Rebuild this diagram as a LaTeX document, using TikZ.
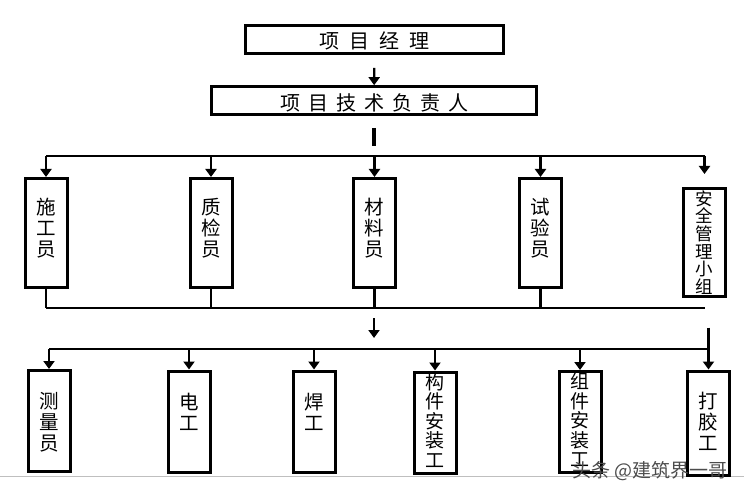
\documentclass[tikz,border=0pt]{standalone}
\usepackage{fontspec}
\setmainfont{Noto Sans CJK SC}
\usetikzlibrary{arrows.meta,calc}
\newcommand\chgapA{\hspace{10pt}}
\newcommand\chgapB{\hspace{8pt}}
\begin{document}
\begin{tikzpicture}[x=1pt,y=-1pt,
  box/.style={draw,line width=3pt,inner sep=0pt},
  hbox/.style={box,line width=2.6pt,minimum height=28pt},
  vbox/.style={box,minimum width=42pt,minimum height=101pt},
  conn/.style={line width=2.4pt},
  arr/.style={line width=2.4pt,-{Triangle[width=11pt,length=8pt]}},
  stub/.style={line width=3.6pt},
  lbl/.style={inner sep=0pt,align=center,font=\fontsize{19.5pt}{21pt}\selectfont},
  lblfive/.style={lbl,font=\fontsize{19pt}{19.5pt}\selectfont},
  lblsix/.style={lbl,font=\fontsize{17.5pt}{17.6pt}\selectfont},
  lblh/.style={lbl,font=\fontsize{20pt}{22pt}\selectfont},
]
\useasboundingbox (0,0) rectangle (744,497);
\draw[black!25,line width=1pt] (0,476.5) -- (744,476.5);

% top boxes
\node[hbox,minimum width=258pt] (pm) at (374.5,39.5) {};
\node[lblh] (pmt) at ($(pm.center)+(0,1)$) {项\chgapA 目\chgapA 经\chgapA 理};
\node[hbox,minimum width=325pt] (tl) at (374,100.5) {};
\node[lblh] (tlt) at ($(tl.center)+(0,2)$) {项\chgapB 目\chgapB 技\chgapB 术\chgapB 负\chgapB 责\chgapB 人};

% first row
\node[vbox,minimum height=109pt] (a1) at (46,233) {};
\node[vbox,minimum height=109pt] (a2) at (211,233) {};
\node[vbox,minimum height=109pt] (a3) at (374.5,233) {};
\node[vbox,minimum height=109pt] (a4) at (540.5,233) {};
\node[vbox,minimum height=108pt] (a5) at (704.5,242.5) {};
\node[lbl] (a1t) at ($(a1.center)+(0,-4.5)$) {施\\工\\员};
\node[lbl] (a2t) at ($(a2.center)+(0,-4.5)$) {质\\检\\员};
\node[lbl] (a3t) at ($(a3.center)+(0,-4.5)$) {材\\料\\员};
\node[lbl] (a4t) at ($(a4.center)+(0,-4.5)$) {试\\验\\员};
\node[lblsix] (a5t) at (a5.center) {安\\全\\管\\理\\小\\组};

% second row
\node[vbox] (f1) at (49,421) {};
\node[vbox] (f2) at (189,421.5) {};
\node[vbox] (f3) at (314,421.5) {};
\node[vbox] (f4) at (435,422.5) {};
\node[vbox] (f5) at (580,422) {};
\node[vbox,minimum height=104pt] (f6) at (708.5,423) {};
\node[lbl] (f1t) at ($(f1.center)+(0,1)$) {测\\量\\员};
\node[lbl] (f2t) at ($(f2.center)+(0,-10)$) {电\\工};
\node[lbl] (f3t) at ($(f3.center)+(0,-10)$) {焊\\工};
\node[lblfive] (f4t) at ($(f4.center)+(0,-2)$) {构\\件\\安\\装\\工};
\node[lblfive] (f5t) at ($(f5.center)+(0,-2)$) {组\\件\\安\\装\\工};
\node[lbl] (f6t) at ($(f6.center)+(0,-1.5)$) {打\\胶\\工};

% connectors
\draw[arr,shorten <=13pt] (pm) -- (tl);
\draw[stub] ([yshift=-12pt]tl.south) -- ([yshift=-30pt]tl.south);

\coordinate (h1) at (0,156);
\draw[conn] (a1.north |- h1) -- (a5.north |- h1);
\foreach \n in {a1,a2,a3,a4} \draw[arr] (\n.north |- h1) -- (\n);
\draw[arr,shorten >=13pt] (a5.north |- h1) -- (a5);

\coordinate (h2) at (0,308);
\draw[conn] (a1.south |- h2) -- (a5.south |- h2);
\foreach \n in {a1,a2,a3,a4} \draw[conn] (\n) -- (\n.south |- h2);

\coordinate (s1) at (374,318);
\coordinate (s2) at (374,338);
\draw[arr] (s1) -- (s2);

\coordinate (h3) at (0,349);
\draw[conn] (f1.north |- h3) -- (f6.north |- h3);
\foreach \n in {f1,f2,f3,f4,f5} \draw[arr] (\n.north |- h3) -- (\n);
\draw[arr,line width=3pt] ([yshift=42pt]f6.north) -- (f6);

% watermark
\node[inner sep=0pt,anchor=east,text=black!70,font=\fontsize{19pt}{20pt}\selectfont] (wm) at (728,471) {头条 @建筑界一哥};
\end{tikzpicture}
\end{document}
